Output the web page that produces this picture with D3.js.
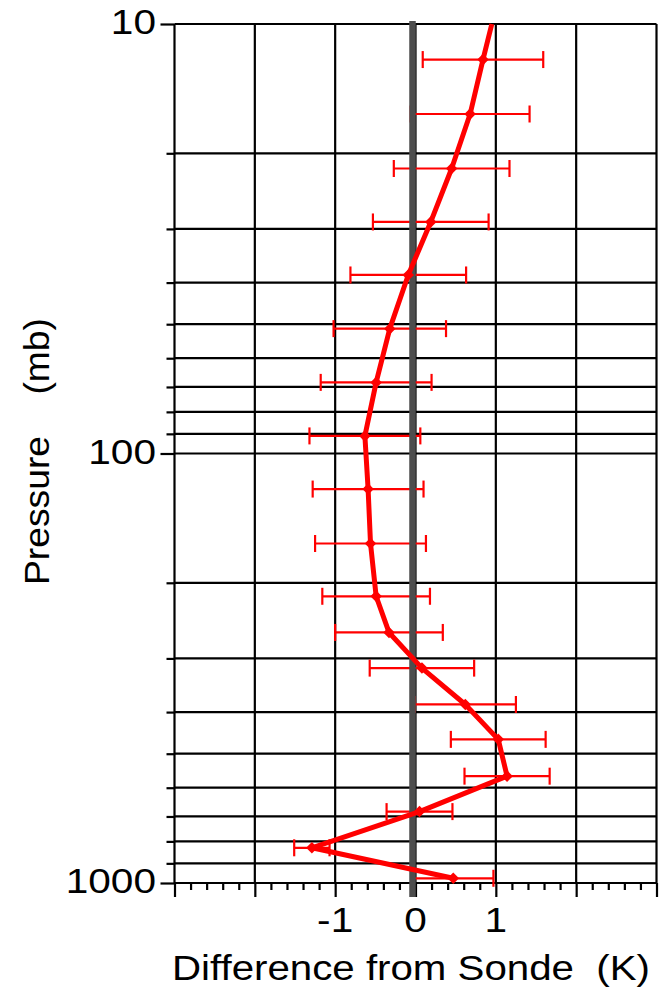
<!DOCTYPE html>
<html>
<head>
<meta charset="utf-8">
<script src="https://cdn.jsdelivr.net/npm/d3@7"></script>
<style>
  html, body { margin: 0; padding: 0; background: #fff; }
  svg { display: block; }
  text { font-family: "Liberation Sans", Arial, Helvetica, sans-serif; fill: #000; white-space: pre; }
</style>
</head>
<body>
<svg id="chart" width="667" height="997"></svg>
<script>
// Retrieval minus radiosonde temperature profile
const pressureLevels = [10, 12.1, 16.2, 21.7, 28.9, 38.4, 51.2, 68.3, 91, 121, 162, 215, 261, 316, 384, 463, 564, 682, 828, 975];
const tempDiff      = [0.95, 0.84, 0.68, 0.45, 0.19, -0.09, -0.32, -0.49, -0.63, -0.59, -0.56, -0.49, -0.33, 0.08, 0.62, 1.03, 1.14, 0.05, -1.29, 0.47];
const diffError     = [null, 0.75, 0.74, 0.72, 0.72, 0.72, 0.70, 0.69, 0.69, 0.69, 0.69, 0.67, 0.67, 0.65, 0.63, 0.59, 0.53, 0.41, 0.22, 0.50];

// Axis settings
const xDomain = [-3, 3];
const xLabelTicks = [-1, 0, 1];
const yDomain = [10, 1000];
const yLabelTicks = [10, 100, 1000];
const xTitle = "Difference from Sonde  (K)";
const yTitle = "Pressure    (mb)";

const svg = d3.select("#chart");
const plotLeft = 174.5, plotRight = 656.5, plotTop = 24, plotBottom = 883;
const stretch = 1.16;   // the lettering runs a little wider than plain Arial
const fontSize = 35;

const x = d3.scaleLinear().domain(xDomain).range([plotLeft, plotRight]);
const y = d3.scaleLog().domain(yDomain).range([plotTop, plotBottom]);

const rows = pressureLevels.map((p, i) => ({ p, v: tempDiff[i], e: diffError[i] }));

// Log grid levels: 1..9 x each decade
const gridLevels = [];
for (let d = 10; d < 1000; d *= 10) for (let k = 1; k < 10; k++) gridLevels.push(d * k);
gridLevels.push(1000);
const xMajor = d3.range(xDomain[0], xDomain[1] + 0.001, 1);
const xMinor = d3.range(xDomain[0] * 5, xDomain[1] * 5 + 1).map(k => k / 5).filter(v => Math.abs(v - Math.round(v)) > 1e-6);

// Grid
const grid = svg.append("g").attr("stroke", "#000").attr("stroke-width", 2.2);
grid.selectAll("line.h").data(gridLevels).join("line").attr("class", "h")
  .attr("x1", plotLeft).attr("x2", plotRight).attr("y1", d => y(d)).attr("y2", d => y(d));
grid.selectAll("line.v").data(xMajor).join("line").attr("class", "v")
  .attr("x1", d => x(d)).attr("x2", d => x(d)).attr("y1", plotTop).attr("y2", plotBottom);

// Left axis: long ticks at decades, short ticks at the other levels
const yAxisMajor = d3.axisLeft(y).tickValues(yLabelTicks).tickSize(14).tickFormat("");
const yAxisMinor = d3.axisLeft(y).tickValues(gridLevels.filter(d => !yLabelTicks.includes(d))).tickSize(8).tickFormat("");
[yAxisMajor, yAxisMinor].forEach(ax => {
  const g = svg.append("g").attr("transform", `translate(${plotLeft},0)`).call(ax);
  g.select(".domain").remove();
  g.selectAll("line").attr("stroke", "#000").attr("stroke-width", 2.2);
});

// Bottom axis: long ticks at integers, short ticks every 0.2 K
const xAxisMajor = d3.axisBottom(x).tickValues(xMajor).tickSize(14).tickFormat("");
const xAxisMinor = d3.axisBottom(x).tickValues(xMinor).tickSize(7).tickFormat("");
[xAxisMajor, xAxisMinor].forEach(ax => {
  const g = svg.append("g").attr("transform", `translate(0,${plotBottom})`).call(ax);
  g.select(".domain").remove();
  g.selectAll("line").attr("stroke", "#000").attr("stroke-width", 2.2);
});

// Tick labels
svg.append("g").selectAll("text").data(yLabelTicks).join("text")
  .attr("text-anchor", "end")
  .attr("font-size", fontSize)
  .attr("transform", d => `translate(156,${y(d) + 10}) scale(${stretch},1)`)
  .text(d => d);
svg.append("g").selectAll("text").data(xLabelTicks).join("text")
  .attr("text-anchor", "middle")
  .attr("font-size", fontSize)
  .attr("transform", d => `translate(${x(d)},932) scale(${stretch},1)`)
  .text(d => d);

// Error bars
const eb = svg.append("g").attr("stroke", "#ff0000").attr("stroke-width", 2.2).attr("fill", "none");
const withErr = rows.filter(r => r.e != null);
eb.selectAll("line.bar").data(withErr).join("line").attr("class", "bar")
  .attr("x1", d => x(d.v - d.e)).attr("x2", d => x(d.v + d.e))
  .attr("y1", d => y(d.p)).attr("y2", d => y(d.p));
eb.selectAll("line.capL").data(withErr).join("line").attr("class", "capL")
  .attr("x1", d => x(d.v - d.e)).attr("x2", d => x(d.v - d.e))
  .attr("y1", d => y(d.p) - 8.5).attr("y2", d => y(d.p) + 8.5);
eb.selectAll("line.capR").data(withErr).join("line").attr("class", "capR")
  .attr("x1", d => x(d.v + d.e)).attr("x2", d => x(d.v + d.e))
  .attr("y1", d => y(d.p) - 8.5).attr("y2", d => y(d.p) + 8.5);

// Zero reference line
svg.append("line")
  .attr("x1", x(0) - 3).attr("x2", x(0) - 3)
  .attr("y1", plotTop - 3).attr("y2", plotBottom + 14)
  .attr("stroke", "#4d4d4d").attr("stroke-width", 6.5);

// Profile line
const line = d3.line().x(d => x(d.v)).y(d => y(d.p));
svg.append("path").datum(rows)
  .attr("d", line)
  .attr("fill", "none").attr("stroke", "#ff0000")
  .attr("stroke-width", 5).attr("stroke-linejoin", "round");

// Diamond markers
const diamond = {
  draw(ctx, size) {
    const r = Math.sqrt(size / 2);
    ctx.moveTo(0, -r); ctx.lineTo(r, 0); ctx.lineTo(0, r); ctx.lineTo(-r, 0); ctx.closePath();
  }
};
svg.append("g").selectAll("path").data(withErr).join("path")
  .attr("transform", d => `translate(${x(d.v)},${y(d.p)})`)
  .attr("d", d3.symbol().type(diamond).size(66))
  .attr("fill", "#ff0000");

// Axis titles
svg.append("text")
  .attr("x", 411).attr("y", 980)
  .attr("text-anchor", "middle")
  .attr("font-size", fontSize)
  .attr("textLength", 478).attr("lengthAdjust", "spacingAndGlyphs")
  .text(xTitle);
svg.append("text")
  .attr("transform", "translate(49,451.5) rotate(-90)")
  .attr("text-anchor", "middle")
  .attr("font-size", fontSize)
  .attr("textLength", 267).attr("lengthAdjust", "spacingAndGlyphs")
  .text(yTitle);
</script>
</body>
</html>
